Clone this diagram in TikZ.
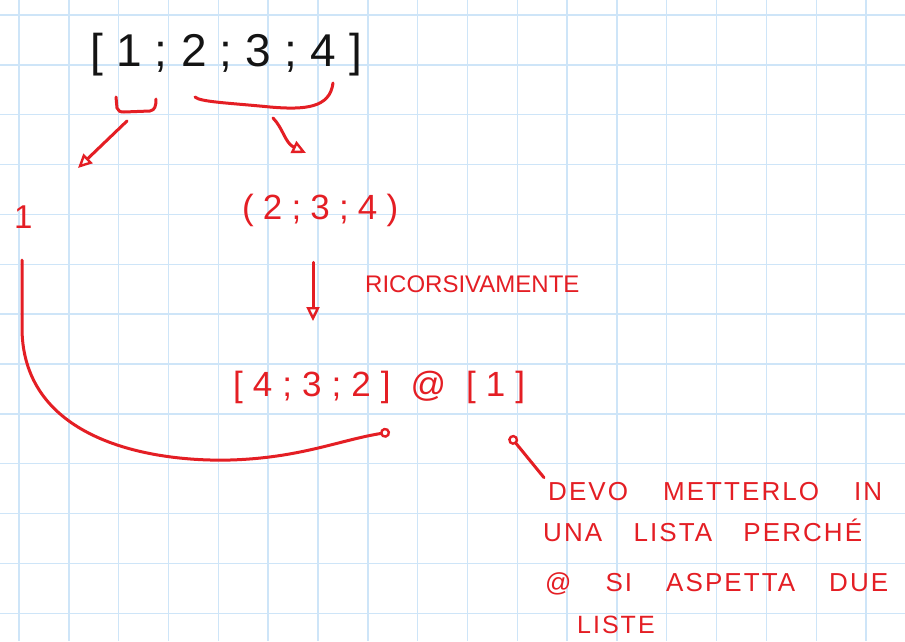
\documentclass[tikz,border=0pt]{standalone}
\usepackage{fontspec}
\setmainfont{Liberation Sans}
\newfontfamily\handfont[LetterSpace=8]{Liberation Sans}
\usetikzlibrary{arrows.meta}
\definecolor{ink}{RGB}{228,30,36}
\definecolor{gridc}{RGB}{206,229,248}
\definecolor{pen}{RGB}{20,20,20}
\tikzset{
  hand/.style={inner sep=0pt, anchor=base west},
  redtxt/.style={hand, text=ink},
  stroke/.style={draw=ink, line width=3pt, line cap=round, line join=round},
  opentip/.style={-{Triangle[open,length=14pt,width=13pt,line width=2.4pt]}},
  dottip/.style={-{Circle[open,length=10pt,width=10pt,line width=2.4pt]}}
}
\begin{document}
\begin{tikzpicture}[x=1pt,y=-1pt]
\useasboundingbox (0,0) rectangle (905,641);
\fill[white] (0,0) rectangle (905,641);
% grid paper
\foreach \i in {0,...,17} \draw[gridc,line width=1.4pt] ({19+49.83*\i},0) -- ({19+49.83*\i},641);
\foreach \j in {0,...,12} \draw[gridc,line width=1.4pt] (0,{15+49.85*\j}) -- (905,{15+49.85*\j});

% black list
\node[hand, text=pen, font=\fontsize{46}{46}\selectfont] (lst) at (90,66)
  {\makebox[272pt][s]{[\hfil 1\hfil ;\hfil 2\hfil ;\hfil 3\hfil ;\hfil 4\hfil ]}};

% red texts
\node[redtxt, font=\fontsize{33}{33}\selectfont] (one) at (14,228) {1};
\node[redtxt, font=\fontsize{35}{35}\selectfont] (sub) at (242,219)
  {\makebox[156pt][s]{(\hfil 2\hfil ;\hfil 3\hfil ;\hfil 4\hfil )}};
\node[redtxt, font=\fontsize{24}{24}\selectfont] (ric) at (365,292) {RICORSIVAMENTE};
\node[redtxt, font=\fontsize{35}{35}\selectfont] (res) at (233,396)
  {\makebox[292pt][s]{[\hfil 4\hfil ;\hfil 3\hfil ;\hfil 2\hfil ]\hfil\hfil @\hfil\hfil [\hfil 1\hfil ]}};

% note
\node[redtxt, font=\handfont\fontsize{26}{26}\selectfont] (note1) at (548,500) {\makebox[334pt][s]{DEVO METTERLO IN}};
\node[redtxt, font=\handfont\fontsize{26}{26}\selectfont] (note2) at (543,541) {\makebox[319pt][s]{UNA LISTA PERCHÉ}};
\node[redtxt, font=\handfont\fontsize{26}{26}\selectfont] (note3) at (545,591) {\makebox[343pt][s]{@ SI ASPETTA DUE}};
\node[redtxt, font=\handfont\fontsize{25}{25}\selectfont] (note4) at (577,633) {LISTE};

% braces
\coordinate (b2) at (270,107);
\draw[stroke] (116,97) -- (117,108) .. controls (118,111) and (120,112) .. (124,112) -- (150,111)
   .. controls (155,110) and (156,106) .. (156,99);
\draw[stroke] (195,97) .. controls (200,102) and (230,103) .. (b2)
   .. controls (305,110) and (330,108) .. (333,83);

% arrows
\coordinate (a1s) at (127,121);
\coordinate (a1e) at (78,168);
\draw[stroke, opentip] (a1s) -- (a1e);
\coordinate (a2s) at (273,118);
\coordinate (a2e) at (306,153);
\draw[stroke, opentip] (a2s) .. controls (283,128) and (285,143) .. (a2e);
\coordinate (a3e) at (313,321);
\draw[stroke, opentip, shorten <=36pt] (sub.south -| a3e) -- (a3e);

% recursion result curve
\coordinate (m1) at (390,432);
\draw[stroke, dottip, shorten <=32pt] (one.south -| 22,0) -- (22,330)
  .. controls (24,440) and (150,462) .. (230,460)
  .. controls (300,458) and (340,440) .. (m1);

% note pointer
\coordinate (m2) at (510,436);
\draw[stroke, dottip] (note1.north west) ++(-4,-4) -- (m2);
\end{tikzpicture}
\end{document}
